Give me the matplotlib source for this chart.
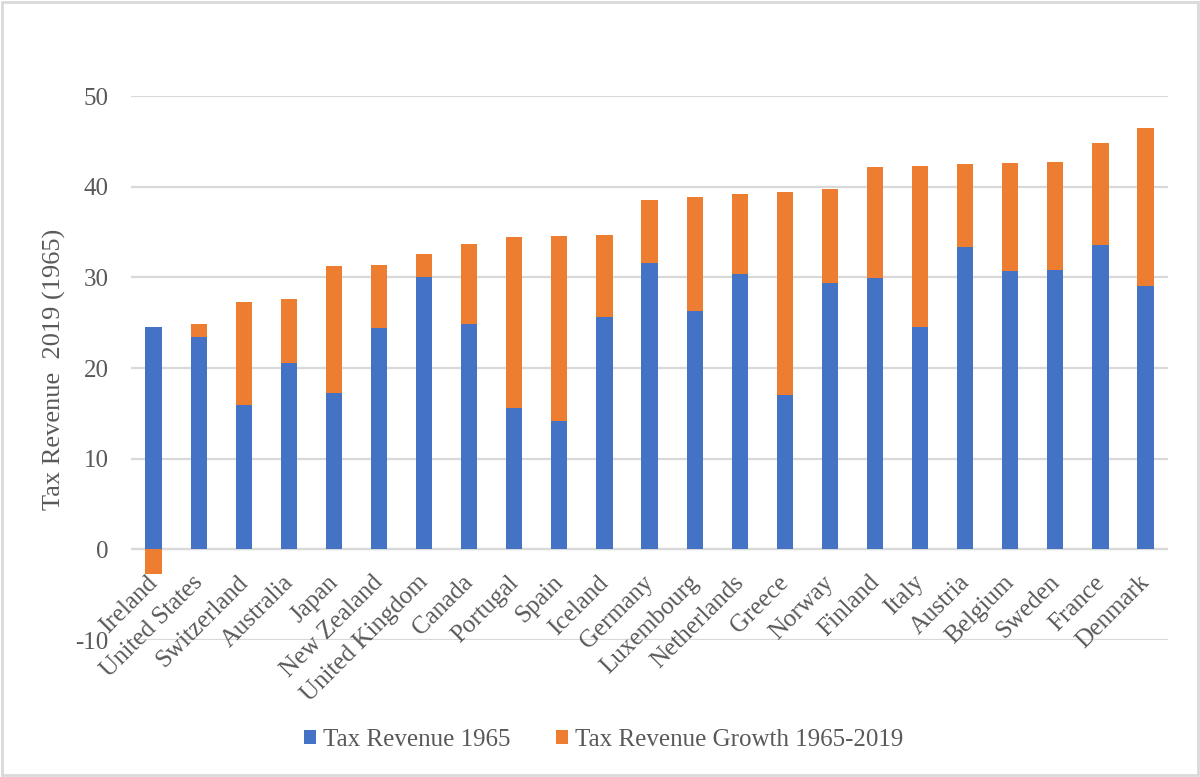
import numpy as np
import matplotlib.pyplot as plt
from matplotlib.patches import Rectangle
from matplotlib.transforms import ScaledTranslation

countries = ["Ireland", "United States", "Switzerland", "Australia", "Japan",
             "New Zealand", "United Kingdom", "Canada", "Portugal", "Spain",
             "Iceland", "Germany", "Luxembourg", "Netherlands", "Greece",
             "Norway", "Finland", "Italy", "Austria", "Belgium", "Sweden",
             "France", "Denmark"]
rev_1965 = [24.5, 23.4, 15.9, 20.5, 17.2, 24.4, 30.0, 24.9, 15.6, 14.2,
            25.6, 31.6, 26.3, 30.4, 17.0, 29.4, 29.9, 24.5, 33.4, 30.7,
            30.8, 33.6, 29.0]
growth = [-2.7, 1.5, 11.4, 7.1, 14.1, 7.0, 2.6, 8.8, 18.8, 20.4,
          9.1, 6.9, 12.6, 8.8, 22.4, 10.4, 12.3, 17.8, 9.1, 11.9,
          11.9, 11.2, 17.5]
y_ticks = [-10, 0, 10, 20, 30, 40, 50]

blue = "#4472C4"
orange = "#ED7D31"
grey_txt = "#595959"
grid_col = "#d9d9d9"

plt.rcParams['font.family'] = ['Liberation Serif', 'DejaVu Serif']

fig = plt.figure(figsize=(12, 7.77), dpi=100)
ax = fig.add_axes([0.1092, 0.1763, 0.8642, 0.7001])

x = np.arange(len(countries))
base = np.array(rev_1965)
gr = np.array(growth)
bottom = np.where(gr >= 0, base, 0)

ax.bar(x, base, width=0.36, color=blue, label="Tax Revenue 1965", zorder=3)
ax.bar(x, gr, bottom=bottom, width=0.36, color=orange,
       label="Tax Revenue Growth 1965-2019", zorder=3)

ax.set_xlim(-0.5, len(countries) - 0.5)
ax.set_ylim(-10, 50)
ax.set_yticks(y_ticks)
ax.set_yticklabels([str(t) for t in y_ticks])
ax.tick_params(axis='y', length=0, pad=16, labelsize=18, labelcolor=grey_txt)
ax.set_xticks([])
ax.yaxis.grid(True, color=grid_col, linewidth=1.6, zorder=0)
ax.axhline(0, color=grid_col, linewidth=1.6, zorder=1)
for s in ax.spines.values():
    s.set_visible(False)

# category labels hang off the zero line
off = ax.transData + ScaledTranslation(-0.07, -0.22, fig.dpi_scale_trans)
for i, name in enumerate(countries):
    ax.text(i, 0, name, rotation=45, rotation_mode='anchor', ha='right',
            va='top', fontsize=18, color=grey_txt, transform=off)

fig.text(0.045, 0.524, "Tax Revenue  2019 (1965)", rotation=90, ha='center',
         va='center', fontsize=19, color=grey_txt)

ax.legend(loc='center', bbox_to_anchor=(0.503, 0.0476),
          bbox_transform=fig.transFigure, ncol=2, frameon=False,
          fontsize=18, labelcolor=grey_txt, handlelength=0.48,
          handleheight=0.48, handletextpad=0.28, columnspacing=1.84)

fig.patches.append(Rectangle((0.002, 0.002), 0.996, 0.996,
                             transform=fig.transFigure, fill=False,
                             edgecolor=grid_col, linewidth=2))

fig.savefig("out.png", dpi=100)
